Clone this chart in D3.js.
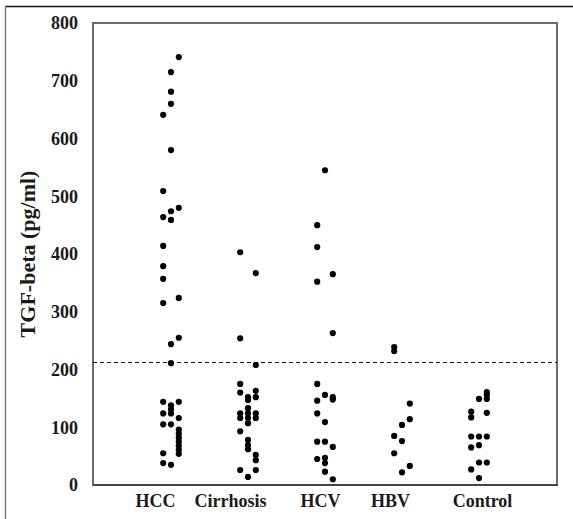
<!DOCTYPE html>
<html>
<head>
<meta charset="utf-8">
<script src="https://cdn.jsdelivr.net/npm/d3@7"></script>
<style>
  html, body { margin: 0; padding: 0; background: #fff; }
  svg { display: block; }
  text { font-family: "Liberation Serif", "Times New Roman", serif; font-weight: bold; }
</style>
</head>
<body>
<svg id="chart" width="573" height="519"></svg>
<script>
// ---- data ----
const categories = ["HCC", "Cirrhosis", "HCV", "HBV", "Control"];
const yTicks = [0, 100, 200, 300, 400, 500, 600, 700, 800];
const cutoff = 213;
const yTitle = "TGF-beta (pg/ml)";

const hccValues = [741, 715, 681, 660, 641, 580, 509, 480, 474, 464, 459, 414, 379, 357, 324, 315, 255, 244, 211,
  144, 144, 138, 131, 124, 124, 116, 105, 105, 96, 89, 82, 75, 68, 61, 54, 55, 38, 35];
const hccSlots = [1, 0, 0, 0, -1, 0, -1, 1, 0, -1, 0, -1, -1, -1, 1, -1, 1, 0, 0,
  -1, 1, 0, 0, -1, 0, 1, -1, 0, 1, 1, 1, 1, 1, 1, 1, -1, -1, 0];

const cirrhosisValues = [403, 367, 254, 208, 175, 163, 160, 152, 152, 147, 133, 124, 124, 124, 116, 116, 116, 107,
  93, 78, 69, 62, 52, 43, 26, 26, 14];
const cirrhosisSlots = [-1, 1, -1, 1, -1, 1, -1, 0, 1, 0, 0, -1, 0, 1, -1, 0, 1, 0,
  -1, 0, 0, 0, 1, 1, -1, 1, 0];

const hcvValues = [545, 450, 412, 365, 352, 263, 175, 156, 152, 148, 146, 124, 109, 75, 75, 66, 47, 45, 38, 23, 10];
const hcvSlots = [0, -1, -1, 1, -1, 1, -1, 0, 1, 1, -1, -1, 0, -1, 0, 1, 0, -1, 0, 0, 1];

const hbvValues = [239, 232, 141, 114, 104, 85, 76, 55, 33, 22];
const hbvSlots = [-1, -1, 1, 1, 0, -1, 0, -1, 1, 0];

const controlValues = [161, 156, 149, 149, 127, 117, 125, 84, 84, 84, 65, 69, 39, 39, 27, 12];
const controlSlots = [1, 1, 1, 0, -1, -1, 1, -1, 0, 1, -1, 0, 0, 1, -1, 0];

const seriesValues = [hccValues, cirrhosisValues, hcvValues, hbvValues, controlValues];
const seriesSlots = [hccSlots, cirrhosisSlots, hcvSlots, hbvSlots, controlSlots];

// ---- layout ----
const W = 573, H = 519;
const plot = { left: 93, right: 557, top: 23, bottom: 485 };
const jitterStep = 7.8;
const labelNudge = [-16, -18, -5, -12, 3];

const svg = d3.select("#chart");
svg.append("rect").attr("width", W).attr("height", H).attr("fill", "#fff");

// outer frame (top & left only)
svg.append("line").attr("x1", 5).attr("x2", W).attr("y1", 6.5).attr("y2", 6.5)
  .attr("stroke", "#111").attr("stroke-width", 1.6);
svg.append("line").attr("x1", 5.5).attr("x2", 5.5).attr("y1", 6).attr("y2", H)
  .attr("stroke", "#777").attr("stroke-width", 1.4);

const y = d3.scaleLinear().domain([0, 800]).range([plot.bottom, plot.top]);
const x = d3.scalePoint().domain(categories).range([171, 479]);

// plot frame
svg.append("rect")
  .attr("x", plot.left).attr("y", plot.top)
  .attr("width", plot.right - plot.left).attr("height", plot.bottom - plot.top)
  .attr("fill", "none").attr("stroke", "#6a6a6a").attr("stroke-width", 2);
svg.append("line").attr("x1", plot.left).attr("x2", plot.right + 1)
  .attr("y1", plot.bottom).attr("y2", plot.bottom)
  .attr("stroke", "#444").attr("stroke-width", 2);

// y axis
const yAxis = svg.append("g").attr("transform", `translate(${plot.left},0)`)
  .call(d3.axisLeft(y).tickValues(yTicks).tickSize(0).tickPadding(15));
yAxis.select(".domain").remove();
yAxis.selectAll("text").attr("font-size", 18).attr("fill", "#1a1a1a")
  .style("font-family", '"Liberation Serif", serif').style("font-weight", "bold");

// x axis labels
const xAxis = svg.append("g").attr("transform", `translate(0,${plot.bottom})`)
  .call(d3.axisBottom(x).tickSize(0).tickPadding(9));
xAxis.select(".domain").remove();
xAxis.selectAll("text").attr("font-size", 18).attr("fill", "#1a1a1a")
  .style("font-family", '"Liberation Serif", serif').style("font-weight", "bold")
  .attr("dx", (d, i) => labelNudge[i]);

// y title
svg.append("text")
  .attr("transform", `translate(35,${254}) rotate(-90)`)
  .attr("text-anchor", "middle")
  .attr("font-size", 22).attr("fill", "#1a1a1a")
  .text(yTitle);

// cutoff dashed line
const yc = Math.round(y(cutoff)) + 0.5;
svg.append("line")
  .attr("x1", plot.left).attr("x2", plot.right)
  .attr("y1", yc).attr("y2", yc)
  .attr("stroke", "#111").attr("stroke-width", 1)
  .attr("stroke-dasharray", "4,3");

// dots
const points = [];
categories.forEach((c, ci) => {
  seriesValues[ci].forEach((v, i) => points.push({ cat: c, value: v, slot: seriesSlots[ci][i] }));
});
svg.append("g").selectAll("circle").data(points).join("circle")
  .attr("cx", d => x(d.cat) + d.slot * jitterStep)
  .attr("cy", d => y(d.value))
  .attr("r", 3.1)
  .attr("fill", "#000");
</script>
</body>
</html>
